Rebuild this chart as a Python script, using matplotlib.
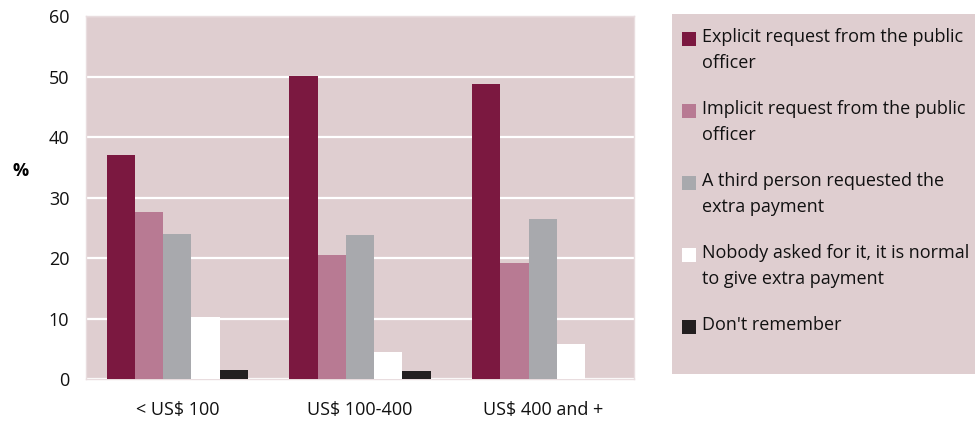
import matplotlib.pyplot as plt
from matplotlib.patches import Rectangle
import numpy as np

plt.rcParams['font.family'] = ['Open Sans', 'DejaVu Sans']

# データ
categories = ['< US$ 100', 'US$ 100-400', 'US$ 400 and +']
series_labels = [
    'Explicit request from the public\nofficer',
    'Implicit request from the public\nofficer',
    'A third person requested the\nextra payment',
    'Nobody asked for it, it is normal\nto give extra payment',
    "Don't remember",
]
explicit = [37.0, 50.2, 48.8]
implicit = [27.7, 20.6, 19.2]
third_person = [24.0, 23.9, 26.5]
nobody = [10.2, 4.5, 5.8]
dont_remember = [1.5, 1.3, 0.0]
colors = ['#7B1840', '#B87A93', '#A8A9AD', '#FFFFFF', '#231F20']
bg = '#DFCED0'
fs = 13

values = [explicit, implicit, third_person, nobody, dont_remember]

fig = plt.figure(figsize=(9.75, 4.23), dpi=100)
ax = fig.add_axes([0.0882, 0.104, 0.5621, 0.857])
ax.set_facecolor(bg)

x = np.arange(len(categories))
width = 0.155
for i, (vals, c) in enumerate(zip(values, colors)):
    ax.bar(x + (i - 2) * width, vals, width, color=c, zorder=3, linewidth=0)

ax.set_xlim(-0.5, 2.5)
ax.set_ylim(0, 60)
ax.set_yticks(range(0, 61, 10))
ax.set_xticks(x)
ax.set_xticklabels(categories)
ax.tick_params(axis='both', length=0, labelsize=fs, colors='#111111')
ax.tick_params(axis='y', pad=12)
ax.tick_params(axis='x', pad=16)
ax.yaxis.grid(True, color='white', linewidth=1.6, zorder=1)
ax.set_axisbelow(True)
for s in ax.spines.values():
    s.set_color('#E9DDDF')
    s.set_linewidth(1)

fig.text(0.021, 0.595, '%', fontsize=fs, fontweight='bold', ha='center', va='center')

# 凡例 (手動)
fig.patches.append(Rectangle((0.689, 0.1158), 0.311, 0.851, transform=fig.transFigure,
                             facecolor=bg, edgecolor='none', zorder=0))
y0 = 423 - 39
for i, (lab, c) in enumerate(zip(series_labels, colors)):
    yc = y0 - i * 72
    fig.patches.append(Rectangle((682 / 975, (yc - 7) / 423), 14 / 975, 14 / 423,
                                 transform=fig.transFigure, facecolor=c, edgecolor='none'))
    fig.text(702 / 975, (yc + 11) / 423, lab, fontsize=fs, va='top', ha='left',
             linespacing=1.55, color='#111111')

fig.savefig('out.png', dpi=100)
